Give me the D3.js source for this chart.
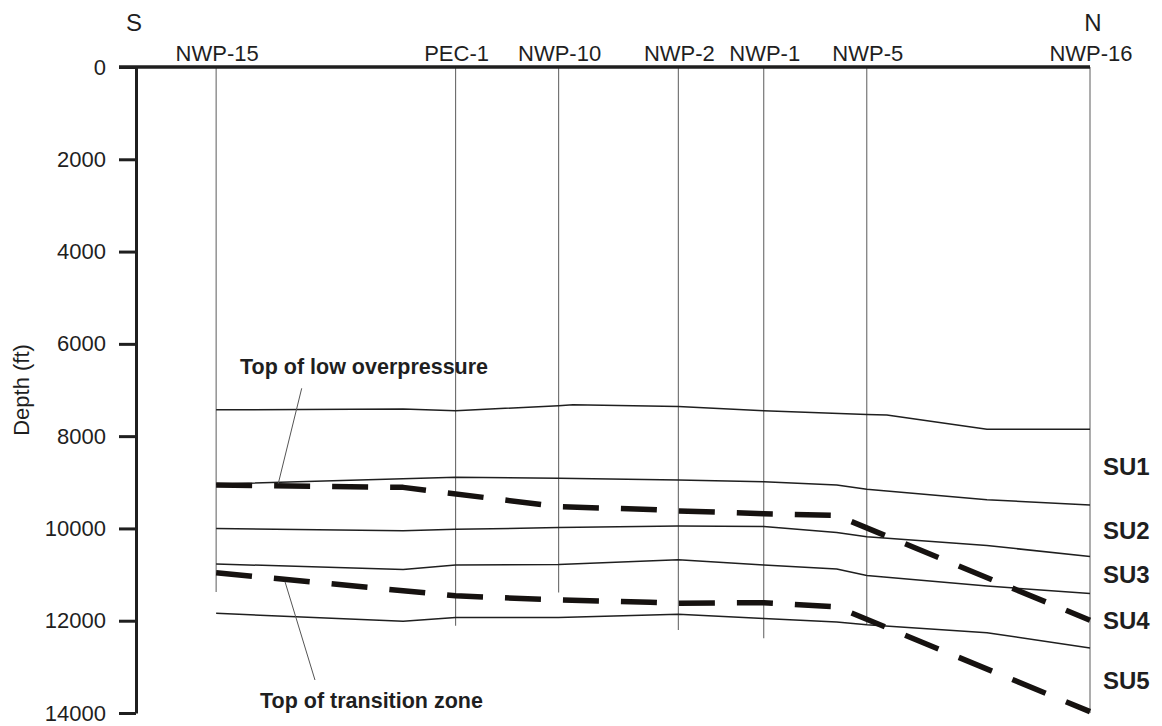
<!DOCTYPE html>
<html>
<head>
<meta charset="utf-8">
<script src="https://cdn.jsdelivr.net/npm/d3@7"></script>
<style>
  html, body { margin: 0; padding: 0; background: #fff; }
  svg { display: block; font-family: "Liberation Sans", Arial, sans-serif; }
</style>
</head>
<body>
<svg id="chart" width="1162" height="726"></svg>
<script>
// Wells along the S–N section (distance in relative section units, depth in ft)
const wellNames = ["NWP-15", "PEC-1", "NWP-10", "NWP-2", "NWP-1", "NWP-5", "NWP-16"];
const wellDist  = [8.4, 33.5, 44.3, 56.85, 65.8, 76.6, 100];
const wellTD    = [11380, 12110, 11390, 12200, 12380, 12090, 14000];

// Depth ticks
const depthTicks = [0, 2000, 4000, 6000, 8000, 10000, 12000, 14000];

// Stratigraphic unit tops: [distance, depth ft]
const su1Top = [[8.4, 7430], [28.0, 7410], [33.5, 7450], [44.3, 7340], [45.8, 7320], [56.85, 7360],
                [65.8, 7450], [76.6, 7530], [78.7, 7540], [89.2, 7850], [100, 7850]];
const su2Top = [[8.4, 9040], [33.5, 8890], [44.3, 8910], [56.85, 8950], [65.8, 8990], [73.45, 9060],
                [76.6, 9150], [89.2, 9380], [100, 9490]];
const su3Top = [[8.4, 10000], [28.0, 10050], [33.5, 10020], [44.3, 9980], [56.85, 9950], [65.8, 9960],
                [73.45, 10090], [76.6, 10180], [89.2, 10370], [100, 10610]];
const su4Top = [[8.4, 10770], [28.0, 10890], [33.5, 10790], [44.3, 10780], [56.85, 10680], [65.8, 10790],
                [73.45, 10880], [76.6, 11020], [89.2, 11250], [100, 11410]];
const su5Top = [[8.4, 11840], [28.0, 12010], [33.5, 11930], [44.3, 11930], [56.85, 11860], [65.8, 11950],
                [73.45, 12030], [76.6, 12090], [89.2, 12260], [100, 12590]];

// Pressure surfaces
const lowOverpressureTop = [[8.4, 9060], [28.0, 9110], [44.3, 9530], [53.9, 9590], [56.85, 9620],
                            [65.8, 9680], [73.45, 9720], [100, 11990]];
const transitionZoneTop  = [[8.4, 10960], [28.0, 11350], [33.5, 11460], [44.3, 11550], [53.9, 11600],
                            [56.85, 11620], [65.8, 11610], [73.45, 11700], [100, 13970]];

const unitLabels = ["SU1", "SU2", "SU3", "SU4", "SU5"];

const svg = d3.select("#chart");
const W = 1162, H = 726;
svg.append("rect").attr("width", W).attr("height", H).attr("fill", "#fff");

const x = d3.scaleLinear().domain([0, 100]).range([136, 1090]);
const y = d3.scaleLinear().domain([0, 14000]).range([67, 713]);

const ink = "#1f1f1f";

// Well columns
svg.append("g").selectAll("line")
  .data(wellNames)
  .join("line")
  .attr("x1", (d, i) => x(wellDist[i]))
  .attr("x2", (d, i) => x(wellDist[i]))
  .attr("y1", y(0))
  .attr("y2", (d, i) => y(wellTD[i]))
  .attr("stroke", "#6a6a6a")
  .attr("stroke-width", 1.1);

// Well names
svg.append("g").selectAll("text")
  .data(wellNames)
  .join("text")
  .attr("x", (d, i) => x(wellDist[i]) + 1)
  .attr("y", 61)
  .attr("text-anchor", "middle")
  .attr("font-size", 22)
  .attr("fill", ink)
  .text(d => d);

// Section direction
svg.append("text").attr("x", x(0) - 2).attr("y", 31).attr("text-anchor", "middle")
  .attr("font-size", 24).attr("fill", ink).text("S");
svg.append("text").attr("x", x(100) + 3).attr("y", 31).attr("text-anchor", "middle")
  .attr("font-size", 24).attr("fill", ink).text("N");

// Horizons
const line = d3.line().x(d => x(d[0])).y(d => y(d[1]));
[su1Top, su2Top, su3Top, su4Top, su5Top].forEach(h => {
  svg.append("path")
    .attr("d", line(h))
    .attr("fill", "none")
    .attr("stroke", ink)
    .attr("stroke-width", 1.5)
    .attr("stroke-linejoin", "round");
});

// Pressure surfaces (heavy dashed)
[lowOverpressureTop, transitionZoneTop].forEach(h => {
  svg.append("path")
    .attr("d", line(h))
    .attr("fill", "none")
    .attr("stroke", "#161210")
    .attr("stroke-width", 5.5)
    .attr("stroke-dasharray", "36 22")
    .attr("stroke-linejoin", "round");
});

// Depth axis
const axis = d3.axisLeft(y)
  .tickValues(depthTicks)
  .tickFormat(d3.format("d"))
  .tickSize(17)
  .tickSizeOuter(0)
  .tickPadding(13);
const gAxis = svg.append("g").attr("transform", `translate(${x(0)},0)`).call(axis);
gAxis.select(".domain").attr("stroke", ink).attr("stroke-width", 3);
gAxis.selectAll(".tick line").attr("stroke", ink).attr("stroke-width", 3);
gAxis.selectAll(".tick text")
  .attr("font-size", 22)
  .attr("font-family", "'Liberation Sans', Arial, sans-serif")
  .attr("fill", ink);

// Surface line along the top
svg.append("line")
  .attr("x1", x(0) - 17).attr("x2", x(100))
  .attr("y1", y(0)).attr("y2", y(0))
  .attr("stroke", ink).attr("stroke-width", 3.5);

// Axis title
svg.append("text")
  .attr("transform", `translate(29,${(y(0) + y(14000)) / 2}) rotate(-90)`)
  .attr("text-anchor", "middle")
  .attr("font-size", 22)
  .attr("fill", ink)
  .text("Depth (ft)");

// Unit labels, centred between successive tops at the north well
const rightTops = [su1Top, su2Top, su3Top, su4Top, su5Top].map(h => h[h.length - 1][1]);
rightTops.push(14000);
svg.append("g").selectAll("text")
  .data(unitLabels)
  .join("text")
  .attr("x", 1103)
  .attr("y", (d, i) => y((rightTops[i] + rightTops[i + 1]) / 2))
  .attr("dy", "0.35em")
  .attr("font-size", 24)
  .attr("font-weight", "bold")
  .attr("fill", ink)
  .text(d => d);

// Annotations with leader lines
const notes = [
  { text: "Top of low overpressure", at: [10.9, 6660], from: [17.37, 6963], to: [14.92, 9022] },
  { text: "Top of transition zone",  at: [13.0, 13898], from: [15.62, 11155], to: [18.76, 13285] }
];
notes.forEach(n => {
  svg.append("line")
    .attr("x1", x(n.from[0])).attr("y1", y(n.from[1]))
    .attr("x2", x(n.to[0])).attr("y2", y(n.to[1]))
    .attr("stroke", "#555").attr("stroke-width", 1);
  svg.append("text")
    .attr("x", x(n.at[0])).attr("y", y(n.at[1]))
    .attr("font-size", 21.5)
    .attr("font-weight", "bold")
    .attr("fill", ink)
    .text(n.text);
});
</script>
</body>
</html>
